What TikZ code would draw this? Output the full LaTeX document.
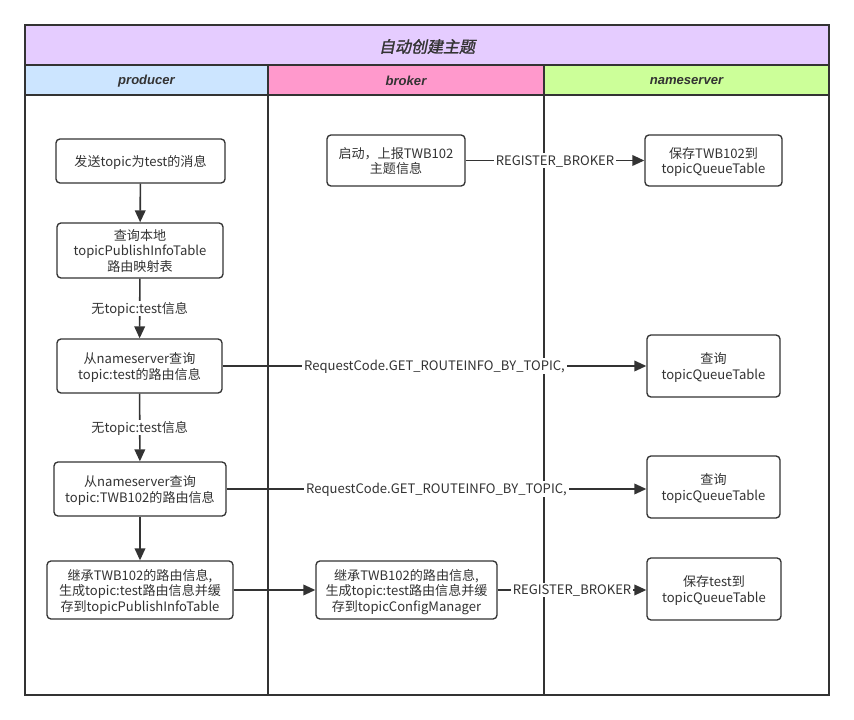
\documentclass[tikz,border=0pt]{standalone}
\usepackage{fontspec}
\setmainfont{Noto Sans CJK SC}
\newfontfamily\titlefont[FakeSlant=0.2,FakeBold=1.5]{Noto Sans CJK SC}
\newfontfamily\headfont{Liberation Sans}
\usetikzlibrary{arrows.meta}
\definecolor{titlefill}{HTML}{E5CCFF}
\definecolor{prodfill}{HTML}{CCE5FF}
\definecolor{brokerfill}{HTML}{FF99CC}
\definecolor{namesfill}{HTML}{CCFF99}
\definecolor{linegray}{HTML}{333333}

\begin{document}
\begin{tikzpicture}[x=0.75pt, y=-0.75pt,
    box/.style = {draw=linegray, line width=1pt, rounded corners=3pt, fill=white, align=center,
      inner sep=2pt, text depth=0pt, text=linegray, font=\fontsize{9.8}{11.6}\selectfont},
    arr/.style = {draw=linegray, line width=1.2pt, -{Triangle[length=9pt,width=8pt]}},
    lbl/.style = {fill=white, inner sep=1.5pt, text depth=0.5pt, text=linegray, font=\fontsize{9.8}{11.6}\selectfont},
    head/.style = {text=linegray, font=\headfont\bfseries\itshape\fontsize{9.8}{11}\selectfont}]
	\useasboundingbox[fill=white] (0,0) rectangle (854,720);
	% lanes
	\fill[titlefill] (25,25) rectangle (829,65);
	\fill[prodfill] (25,65) rectangle (268,95);
	\fill[brokerfill] (268,65) rectangle (544,95);
	\fill[namesfill] (544,65) rectangle (829,95);
	\draw[linegray, line width=1.4pt] (25,25) rectangle (829,695);
	\draw[linegray, line width=1.4pt] (25,65) -- (829,65);
	\draw[linegray, line width=1.4pt] (25,95) -- (829,95);
	\draw[linegray, line width=1.4pt] (268,65) -- (268,695);
	\draw[linegray, line width=1.4pt] (544,65) -- (544,695);
	\node[text=linegray, font=\titlefont\fontsize{12}{13}\selectfont] (title) at (427,46.5) {自动创建主题};
	\node[head] (hp) at (146.5,81) {producer};
	\node[head] (hb) at (406,81) {broker};
	\node[head] (hn) at (686.5,81) {nameserver};
	% producer
	\node[box, minimum width=126.8pt, minimum height=33pt] (p1) at (140.5,161) {发送topic为test的消息};
	\node[box, minimum width=124.5pt, minimum height=41.3pt] (p2) at (140,250.5) {查询本地\\topicPublishInfoTable\\路由映射表};
	\node[box, minimum width=123.8pt, minimum height=40.5pt] (p3) at (139.5,366) {从nameserver查询\\topic:test的路由信息};
	\node[box, minimum width=129pt, minimum height=40.5pt] (p4) at (140,489) {从nameserver查询\\topic:TWB102的路由信息};
	\node[box, minimum width=139.5pt, minimum height=43.5pt] (p5) at (140,590) {继承TWB102的路由信息,\\生成topic:test路由信息并缓\\存到topicPublishInfoTable};
	% broker
	\node[box, minimum width=103.5pt, minimum height=38.3pt] (b1) at (396,160.5) {启动，上报TWB102\\主题信息};
	\node[box, minimum width=135.8pt, minimum height=43.5pt] (b2) at (406.5,590) {继承TWB102的路由信息,\\生成topic:test路由信息并缓\\存到topicConfigManager};
	% nameserver
	\node[box, minimum width=102.8pt, minimum height=38.3pt] (s1) at (713.5,160.5) {保存TWB102到\\topicQueueTable};
	\node[box, minimum width=99.8pt, minimum height=46.5pt] (s2) at (713.5,366) {查询\\topicQueueTable};
	\node[box, minimum width=99.8pt, minimum height=46.5pt] (s3) at (713.5,487) {查询\\topicQueueTable};
	\node[box, minimum width=100.5pt, minimum height=46.5pt] (s4) at (714,589) {保存test到\\topicQueueTable};
	% connectors
	\draw[arr] (p1) -- (p2);
	\draw[arr] (p2) -- node[lbl] {无topic:test信息} (p3);
	\draw[arr] (p3) -- node[lbl] {无topic:test信息} (p4);
	\draw[arr] (p4) -- (p5);
	\draw[arr] (b1) -- node[lbl] {REGISTER\_BROKER} (s1);
	\draw[arr] (p3) -- node[lbl] {RequestCode.GET\_ROUTEINFO\_BY\_TOPIC,} (s2);
	\draw[arr] (p4.east) -- node[lbl] {RequestCode.GET\_ROUTEINFO\_BY\_TOPIC,} (s3.west |- p4.east);
	\draw[arr] (p5) -- (b2);
	\draw[arr] (b2.east) -- node[lbl] {REGISTER\_BROKER} (s4.west |- b2.east);
\end{tikzpicture}
\end{document}
